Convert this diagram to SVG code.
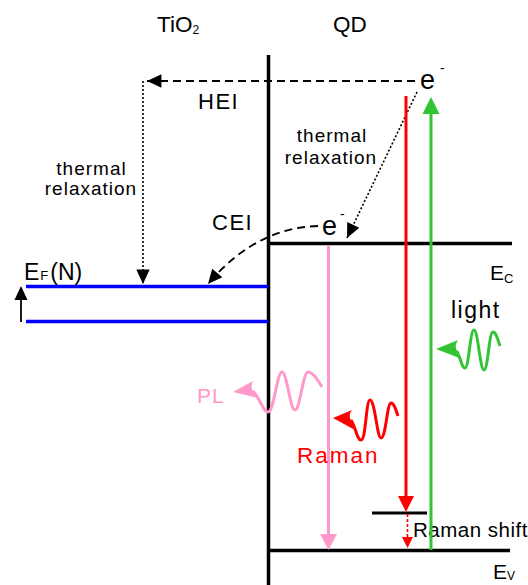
<svg xmlns="http://www.w3.org/2000/svg" width="528" height="585" viewBox="0 0 528 585">
<style>
text{font-family:"Liberation Sans",Arial,sans-serif;}
.lbl{font-size:22px;letter-spacing:1.5px}
.tr{font-size:19px;letter-spacing:1px;text-anchor:middle}
.bl{stroke:#000;stroke-width:3.5;fill:none}
.blue{stroke:#0000ff;stroke-width:3.5;fill:none}
.red{stroke:#ff0000;stroke-width:3;fill:none}
.grn{stroke:#33c433;stroke-width:3;fill:none}
.pnk{stroke:#ff99cc;stroke-width:3;fill:none}
.dash{stroke:#000;stroke-width:1.8;fill:none;stroke-dasharray:8 5}
.dot{stroke:#000;stroke-width:1.6;fill:none;stroke-dasharray:2 2}
</style>
<defs>
<marker id="ah" markerUnits="userSpaceOnUse" markerWidth="20" markerHeight="20" viewBox="-16 -8 18 16" refX="0" refY="0" orient="auto">
<path d="M0,0 L-13,-6 L-13,6 Z" fill="#000"/>
</marker>
</defs>

<g id="labels">
<text x="157" y="32" font-size="22.5">TiO<tspan font-size="12" dy="2">2</tspan></text>
<text x="333" y="32" font-size="22.5">QD</text>
</g>

<g id="interface">
<line class="bl" x1="268.5" y1="55" x2="268.5" y2="585"/>
</g>

<g id="Ec">
<line class="bl" x1="268" y1="243.5" x2="512" y2="243.5"/>
<text x="490" y="280" font-size="21">E<tspan font-size="13" dy="3">C</tspan></text>
</g>
<g id="Ev">
<line class="bl" x1="268" y1="550.5" x2="510" y2="550.5"/>
<text x="493" y="579" font-size="21">E<tspan font-size="12" dy="1">V</tspan></text>
</g>
<g id="raman-level">
<line stroke="#000" stroke-width="3" x1="372" y1="513" x2="427" y2="513"/>
<text x="413" y="537" font-size="20.5" letter-spacing="0.5">Raman shift</text>
</g>

<g id="fermi">
<line class="blue" x1="26" y1="286.5" x2="268" y2="286.5"/>
<line class="blue" x1="26" y1="321.5" x2="268" y2="321.5"/>
<line stroke="#000" stroke-width="1.8" x1="21" y1="322" x2="21" y2="298"/>
<polygon points="21,286 14.5,300 27.5,300" fill="#000"/>
<text x="24" y="280" font-size="23">E<tspan font-size="13" dx="1">F</tspan><tspan dx="2">(N)</tspan></text>
</g>

<g id="electrons">
<text x="420" y="89" font-size="27">e</text>
<text x="440" y="73" font-size="14">-</text>
<text x="322" y="235" font-size="27">e</text>
<text x="340" y="219" font-size="14">-</text>
</g>

<g id="text-labels">
<text x="198" y="109" class="lbl">HEI</text>
<text x="212" y="230" class="lbl">CEI</text>
<text x="91.5" y="175" class="tr">thermal</text>
<text x="91" y="195" class="tr">relaxation</text>
<text x="332" y="142" class="tr">thermal</text>
<text x="331" y="164" class="tr">relaxation</text>
</g>

<g id="connectors">
<path class="dash" d="M415,81 L147,81" marker-end="url(#ah)"/>
<path class="dot" d="M143,81 L143,284" marker-end="url(#ah)"/>
<path class="dot" d="M417,92 L347,238" marker-end="url(#ah)"/>
<path class="dash" d="M318,226 Q255,228 208,284" marker-end="url(#ah)"/>

<line class="red" x1="406" y1="96" x2="406" y2="498"/>
<polygon points="406,512 398,496 414,496" fill="#ff0000"/>
<line stroke="#ff0000" stroke-width="1.6" stroke-dasharray="3 2" x1="407.5" y1="514" x2="407.5" y2="538"/>
<polygon points="407.5,548 402,537 413,537" fill="#ff0000"/>

<line class="grn" x1="431" y1="550" x2="431" y2="112"/>
<polygon points="431,97 422.5,114 439.5,114" fill="#33c433"/>

<line class="pnk" x1="328.5" y1="245" x2="328.5" y2="536"/>
<polygon points="328.5,550 320,534 337,534" fill="#ff99cc"/>
</g>

<g id="light">
<text x="451" y="318" font-size="23" letter-spacing="1.5">light</text>
<path d="M436,349 L458,340 Q454,346 457,351 Q459,355 462,359 Z" fill="#33c433"/>
<path class="grn" d="M457,351 C461,360 462,368 465,368 C469,368 470,330 474,330 C478,330 480,370 484,370 C488,370 489,332 493,332 C496,332 498,340 500,346"/>
</g>

<g id="PL">
<text x="197" y="403" font-size="21" fill="#ff99cc" letter-spacing="1">PL</text>
<path d="M233,392 L253,381 Q250,387 253,391 Q256,394 258,398 Z" fill="#ff99cc"/>
<path class="pnk" d="M253,391 C260,398 263,412 268,412 C274,412 277,372 282,372 C287,372 290,410 295,410 C300,410 303,372 308,372 C313,372 318,380 322,387"/>
</g>

<g id="Raman">
<text x="297" y="463" font-size="22.5" fill="#ff0000" letter-spacing="2">Raman</text>
<path d="M333,418 L352,410 Q348,415 351,420 Q353,425 355,430 Z" fill="#ff0000"/>
<path class="red" d="M351,420 C356,428 357,440 361,440 C366,440 366,400 370,400 C375,400 377,438 381,438 C386,438 387,403 391,403 C394,403 396,410 398,416"/>
</g>
</svg>
